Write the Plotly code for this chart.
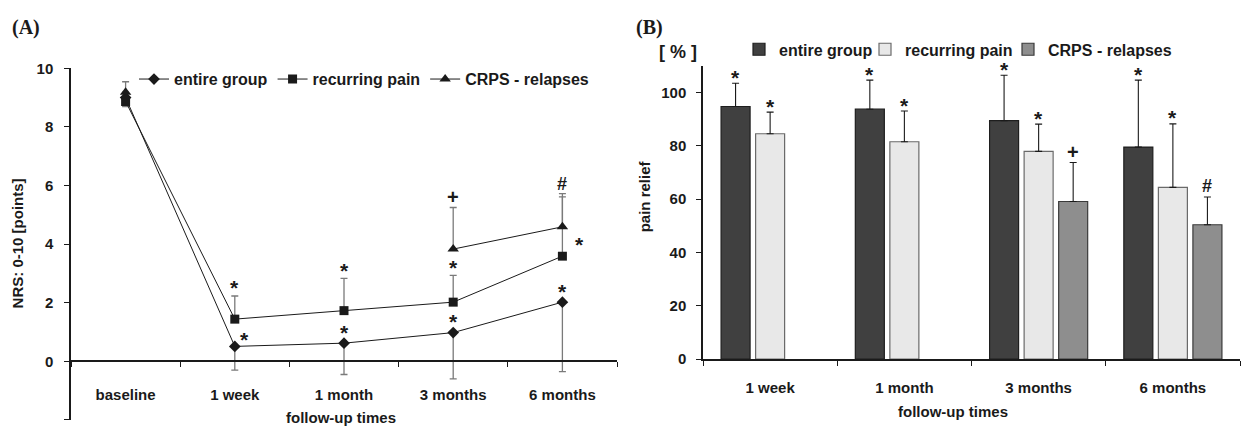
import plotly.graph_objects as go

# ---------------- data ----------------
cats_A = ["baseline", "1 week", "1 month", "3 months", "6 months"]
entire_nrs = [9.0, 0.51, 0.62, 0.98, 2.02]
entire_nrs_err_minus = [0.2, 0.81, 1.07, 1.58, 2.37]
recurring_nrs = [8.87, 1.44, 1.73, 2.02, 3.59]
recurring_nrs_err_plus = [0, 0.79, 1.10, 0.91, 2.02]
recurring_nrs_err_minus = [0.18, 0, 0, 0, 0]
crps_nrs = [9.18, None, None, 3.83, 4.59]
crps_nrs_err_plus = [0.36, 0, 0, 1.42, 1.13]

sig_A_entire = ["", "*", "*", "*", "*"]
sig_A_recurring = ["", "*", "*", "*", "*"]
sig_A_crps = ["", "", "", "+", "#"]

cats_B = ["1 week", "1 month", "3 months", "6 months"]
entire_relief = [94.7, 93.7, 89.4, 79.5]
entire_relief_err = [8.7, 10.9, 17.0, 25.1]
recurring_relief = [84.5, 81.5, 77.9, 64.4]
recurring_relief_err = [8.1, 11.5, 10.2, 23.8]
crps_relief = [None, None, 59.1, 50.4]
crps_relief_err = [0, 0, 14.6, 10.4]

sig_B_entire = ["*", "*", "*", "*"]
sig_B_recurring = ["*", "*", "*", "*"]
sig_B_crps = ["", "", "+", "#"]

series_names = ["entire group", "recurring pain", "CRPS - relapses"]
y_ticks_A = [-2, 0, 2, 4, 6, 8, 10]
y_ticktext_A = ["", "0", "2", "4", "6", "8", "10"]
y_ticks_B = [0, 20, 40, 60, 80, 100]

# ---------------- style ----------------
W, H = 1243, 434
FONT = "Liberation Sans, Arial, sans-serif"
BLACK = "#1a1a1a"
ERR_GREY = "#7a7a7a"

def px_x(p):
    return p / W

def px_y(p):
    return 1 - p / H

fig = go.Figure()

# ---------- Panel A: line chart ----------
fig.add_trace(go.Scatter(
    x=cats_A, y=entire_nrs, name=series_names[0], mode="lines+markers",
    line=dict(color=BLACK, width=1),
    marker=dict(symbol="diamond", size=9, color=BLACK),
    error_y=dict(type="data", symmetric=False, array=[0]*5,
                 arrayminus=entire_nrs_err_minus, color=ERR_GREY,
                 thickness=1.3, width=3.5),
    xaxis="x", yaxis="y", legend="legend"))
fig.add_trace(go.Scatter(
    x=cats_A, y=recurring_nrs, name=series_names[1], mode="lines+markers",
    line=dict(color=BLACK, width=1),
    marker=dict(symbol="square", size=9, color=BLACK),
    error_y=dict(type="data", symmetric=False, array=recurring_nrs_err_plus,
                 arrayminus=recurring_nrs_err_minus, color=ERR_GREY,
                 thickness=1.3, width=3.5),
    xaxis="x", yaxis="y", legend="legend"))
fig.add_trace(go.Scatter(
    x=cats_A, y=crps_nrs, name=series_names[2], mode="lines+markers",
    connectgaps=False,
    line=dict(color=BLACK, width=1),
    marker=dict(symbol="triangle-up", size=10, color=BLACK),
    error_y=dict(type="data", symmetric=False, array=crps_nrs_err_plus,
                 arrayminus=[0]*5, color=ERR_GREY, thickness=1.3, width=3.5),
    xaxis="x", yaxis="y", legend="legend"))

# ---------- Panel B: bar chart ----------
bar_fill = ["#404040", "#e8e8e8", "#8e8e8e"]
bar_line = ["#1e1e1e", "#6a6a6a", "#3a3a3a"]
legend_widths_B = [81, 98, None]
for i, (vals, errs) in enumerate([(entire_relief, entire_relief_err),
                                  (recurring_relief, recurring_relief_err),
                                  (crps_relief, crps_relief_err)]):
    kw = {}
    if legend_widths_B[i]:
        kw["legendwidth"] = legend_widths_B[i]
    fig.add_trace(go.Bar(
        x=cats_B, y=vals, name=series_names[i],
        marker=dict(color=bar_fill[i], line=dict(color=bar_line[i], width=1.2)),
        error_y=dict(type="data", symmetric=False, array=errs,
                     arrayminus=[0]*4, color=BLACK, thickness=1.1, width=3.5),
        xaxis="x2", yaxis="y2", legend="legend2", **kw))

annotations = []
def sig_font(s):
    return dict(family=FONT, size=21 if s == "*" else (20 if s == "+" else 18),
                color=BLACK, weight="bold")
def glyph_corr(s):
    return -2 if s == "*" else 0

# Panel A significance markers
for i, c in enumerate(cats_A):
    s = sig_A_entire[i]
    if s:
        if i == 1:
            annotations.append(dict(x=c, y=entire_nrs[i], xref="x", yref="y", text=s,
                                    showarrow=False, font=sig_font(s), xshift=10,
                                    yshift=9 + glyph_corr(s)))
        else:
            annotations.append(dict(x=c, y=entire_nrs[i], xref="x", yref="y", text=s,
                                    showarrow=False, font=sig_font(s),
                                    yshift=13 + glyph_corr(s)))
    s = sig_A_recurring[i]
    if s:
        if i == 4:
            annotations.append(dict(x=c, y=recurring_nrs[i], xref="x", yref="y", text=s,
                                    showarrow=False, font=sig_font(s), xshift=17,
                                    yshift=14 + glyph_corr(s)))
        else:
            annotations.append(dict(x=c, y=recurring_nrs[i] + recurring_nrs_err_plus[i],
                                    xref="x", yref="y", text=s, showarrow=False,
                                    font=sig_font(s), yshift=10 + glyph_corr(s)))
    s = sig_A_crps[i]
    if s:
        annotations.append(dict(x=c, y=crps_nrs[i] + crps_nrs_err_plus[i],
                                xref="x", yref="y", text=s, showarrow=False,
                                font=sig_font(s), yshift=10 + glyph_corr(s)))

# Panel B significance markers
offsets_B = [-34.5, 0, 34.5]
for i, c in enumerate(cats_B):
    for k, (sig, vals, errs) in enumerate([(sig_B_entire, entire_relief, entire_relief_err),
                                           (sig_B_recurring, recurring_relief, recurring_relief_err),
                                           (sig_B_crps, crps_relief, crps_relief_err)]):
        s = sig[i]
        if s and vals[i] is not None:
            annotations.append(dict(x=c, y=vals[i] + errs[i], xref="x2", yref="y2",
                                    text=s, showarrow=False, font=sig_font(s),
                                    xshift=offsets_B[k],
                                    yshift=(8 if s == "*" else 11) + glyph_corr(s)))

# Panel labels and titles
title_font = dict(family=FONT, size=15, color=BLACK, weight="bold")
serif_font = dict(family="Liberation Serif, Times New Roman, serif", size=20,
                  color=BLACK, weight="bold")
annotations += [
    dict(x=px_x(10), y=px_y(19), xref="paper", yref="paper", text="(A)",
         showarrow=False, xanchor="left", yanchor="middle", font=serif_font),
    dict(x=px_x(634), y=px_y(19), xref="paper", yref="paper", text="(B)",
         showarrow=False, xanchor="left", yanchor="middle", font=serif_font),
    dict(x=px_x(657), y=px_y(45), xref="paper", yref="paper", text="[ % ]",
         showarrow=False, xanchor="left", yanchor="middle",
         font=dict(family=FONT, size=18, color=BLACK, weight="bold")),
    dict(x=px_x(17), y=px_y(244), xref="paper", yref="paper", text="NRS: 0-10 [points]",
         textangle=-90, showarrow=False, xanchor="center", yanchor="middle",
         font=title_font),
    dict(x=px_x(644), y=px_y(195), xref="paper", yref="paper", text="pain relief",
         textangle=-90, showarrow=False, xanchor="center", yanchor="middle",
         font=title_font),
    dict(x=px_x(341), y=px_y(425), xref="paper", yref="paper", text="follow-up times",
         showarrow=False, xanchor="center", yanchor="middle", font=title_font),
    dict(x=px_x(953), y=px_y(419), xref="paper", yref="paper", text="follow-up times",
         showarrow=False, xanchor="center", yanchor="middle", font=title_font),
]

tickfont = dict(family=FONT, size=15, color=BLACK, weight="bold")
axis_common = dict(showline=True, linecolor=BLACK, linewidth=1.5, showgrid=False,
                   zeroline=False, ticks="outside", ticklen=5, tickwidth=1.3,
                   tickcolor=BLACK, tickfont=tickfont)

fig.update_layout(
    width=W, height=H, autosize=False,
    margin=dict(l=0, r=0, t=0, b=0),
    paper_bgcolor="white", plot_bgcolor="white",
    font=dict(family=FONT, color=BLACK),
    barmode="group", bargap=0.228, bargroupgap=0.16,
    xaxis=dict(**axis_common, type="category", categoryorder="array",
               categoryarray=cats_A, tickson="boundaries",
               range=[-0.5, 4.5], domain=[px_x(71), px_x(617)],
               anchor="free", position=px_y(366.7), ticklabelstandoff=20),
    yaxis=dict(**axis_common, range=[-2, 10], tickvals=y_ticks_A,
               ticktext=y_ticktext_A, domain=[px_y(427.7), px_y(61.7)],
               anchor="x", ticklabelstandoff=8),
    xaxis2=dict(**axis_common, type="category", categoryorder="array",
                categoryarray=cats_B, tickson="boundaries",
                range=[-0.5, 3.5], domain=[px_x(703), px_x(1240)],
                anchor="y2", ticklabelstandoff=14),
    yaxis2=dict(**axis_common, range=[0, 110], tickvals=y_ticks_B,
                domain=[px_y(364.5), px_y(59)], anchor="x2", ticklabelstandoff=7),
    legend=dict(orientation="h", x=px_x(134), y=px_y(73), xanchor="left",
                yanchor="middle", bgcolor="rgba(0,0,0,0)", itemwidth=30,
                font=dict(family=FONT, size=16, color=BLACK, weight="bold"),
                tracegroupgap=0),
    legend2=dict(orientation="h", x=px_x(739), y=px_y(42), xanchor="left",
                 yanchor="middle", bgcolor="rgba(0,0,0,0)", itemwidth=30,
                 font=dict(family=FONT, size=16, color=BLACK, weight="bold")),
    annotations=annotations,
)

fig.write_html("out.html", config={"displayModeBar": False},
               post_script="document.body.style.margin='0';document.body.style.overflow='hidden';")
